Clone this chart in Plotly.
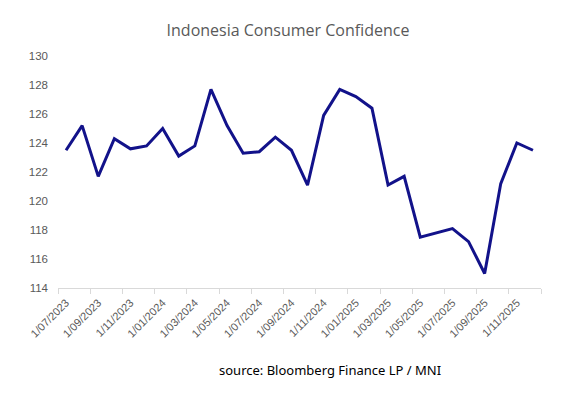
import plotly.graph_objects as go

categories = ["1/07/2023", "1/08/2023", "1/09/2023", "1/10/2023", "1/11/2023", "1/12/2023",
              "1/01/2024", "1/02/2024", "1/03/2024", "1/04/2024", "1/05/2024", "1/06/2024",
              "1/07/2024", "1/08/2024", "1/09/2024", "1/10/2024", "1/11/2024", "1/12/2024",
              "1/01/2025", "1/02/2025", "1/03/2025", "1/04/2025", "1/05/2025", "1/06/2025",
              "1/07/2025", "1/08/2025", "1/09/2025", "1/10/2025", "1/11/2025", "1/12/2025"]
cci = [123.5, 125.2, 121.7, 124.3, 123.6, 123.8,
       125.0, 123.1, 123.8, 127.7, 125.2, 123.3,
       123.4, 124.4, 123.5, 121.1, 125.9, 127.7,
       127.2, 126.4, 121.1, 121.7, 117.5, 117.8,
       118.1, 117.2, 115.0, 121.2, 124.0, 123.5]
y_ticks = [114, 116, 118, 120, 122, 124, 126, 128, 130]

idx = list(range(len(categories)))

# page body has an 8px margin; figure is sized so it fills the remaining window
OFF = 8
W, H = 580 - OFF, 398 - OFF
L, R, T, B = 58 - OFF, 39, 56 - OFF, 398 - 288.5

fig = go.Figure()
fig.add_trace(go.Scatter(x=idx, y=cci, mode="lines",
                         line=dict(color="#12128A", width=3), hoverinfo="y"))

fig.update_layout(
    width=W, height=H,
    margin=dict(l=L, r=R, t=T, b=B, autoexpand=False),
    paper_bgcolor="white", plot_bgcolor="white",
    showlegend=False,
    title=dict(text="Indonesia Consumer Confidence", x=(288 - OFF) / W, xanchor="center",
               y=1 - (30 - OFF) / H, yanchor="middle",
               font=dict(family="Open Sans", size=16, color="#595959")),
    xaxis=dict(range=[-0.5, len(categories) - 0.5],
               tickvals=idx[::2], ticktext=categories[::2],
               tickangle=-45, ticks="", ticklabelstandoff=3,
               tickfont=dict(family="Liberation Sans", size=11, color="#595959"),
               showgrid=False, zeroline=False,
               showline=True, linecolor="#D9D9D9", linewidth=1,
               minor=dict(ticks="outside", tick0=-0.5, dtick=2, ticklen=5,
                          tickcolor="#D9D9D9", showgrid=False)),
    yaxis=dict(range=[114, 130], tickvals=y_ticks, showgrid=False, zeroline=False,
               showline=False, ticks="", ticklabelstandoff=9,
               tickfont=dict(family="Liberation Sans", size=11.5, color="#595959")),
    annotations=[dict(text="source: Bloomberg Finance LP / MNI", xref="paper", yref="paper",
                      x=(330 - 58) / (541 - 58), y=-(371 - 288.5) / (288.5 - 56),
                      xanchor="center", yanchor="middle", showarrow=False,
                      font=dict(family="Noto Sans", size=13, color="#000000"))],
)

fig.write_html("out.html")
